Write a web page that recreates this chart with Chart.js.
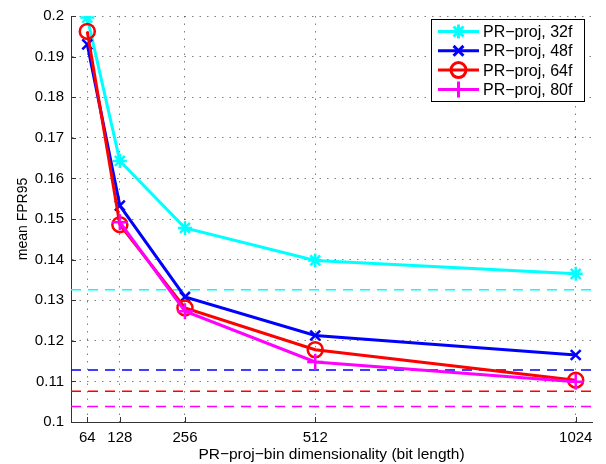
<!DOCTYPE html>
<html>
<head>
<meta charset="utf-8">
<script src="https://cdn.jsdelivr.net/npm/chart.js@4.4.1/dist/chart.umd.min.js"></script>
<style>
  html, body { margin: 0; padding: 0; background: #fff; }
  #wrap { width: 606px; height: 464px; }
</style>
</head>
<body>
<div id="wrap"><canvas id="fprChart" width="606" height="464"></canvas></div>
<script>
// Datos
const bitLengths = [64, 128, 256, 512, 1024];
const fpr32f = [0.1996, 0.1643, 0.1478, 0.1398, 0.1365];
const fpr48f = [0.1930, 0.1533, 0.1308, 0.1213, 0.1165];
const fpr64f = [0.1962, 0.1486, 0.1281, 0.1178, 0.1103];
const fpr80f = [null, 0.1492, 0.1273, 0.1148, 0.1099];
// Líneas de referencia (discontinuas)
const baseline32f = 0.1326;
const baseline48f = 0.1128;
const baseline64f = 0.1076;
const baseline80f = 0.1038;
const xMin = 32, xMax = 1056;
const yTicks = [0.1, 0.11, 0.12, 0.13, 0.14, 0.15, 0.16, 0.17, 0.18, 0.19, 0.2];

const FONT = "'Liberation Sans', Arial, Helvetica, sans-serif";

function toPoints(values) {
  return bitLengths.map((x, i) => ({ x: x, y: values[i] }));
}

function flatLine(y) {
  return [{ x: xMin, y: y }, { x: xMax, y: y }];
}

function series(label, values, color, style, radius, order) {
  return {
    label: label,
    data: toPoints(values),
    borderColor: color,
    borderWidth: 3,
    pointStyle: style,
    pointRadius: radius,
    pointBorderWidth: 2.5,
    pointBorderColor: color,
    pointBackgroundColor: "rgba(0,0,0,0)",
    spanGaps: false,
    order: order,
  };
}

function baseline(y, color) {
  return {
    data: flatLine(y),
    borderColor: color,
    borderWidth: 1.5,
    borderDash: [10, 7],
    pointRadius: 0,
    order: 10,
  };
}

// Ticks hacia adentro, estilo MATLAB
const inwardTicks = {
  id: "inwardTicks",
  afterDraw(chart) {
    const { ctx, chartArea, scales } = chart;
    ctx.save();
    ctx.strokeStyle = "#333";
    ctx.lineWidth = 1;
    ctx.beginPath();
    bitLengths.forEach((v) => {
      const px = Math.round(scales.x.getPixelForValue(v)) + 0.5;
      ctx.moveTo(px, chartArea.bottom);
      ctx.lineTo(px, chartArea.bottom - 5);
    });
    yTicks.forEach((v) => {
      const py = Math.round(scales.y.getPixelForValue(v)) + 0.5;
      ctx.moveTo(chartArea.left, py);
      ctx.lineTo(chartArea.left + 5, py);
    });
    ctx.stroke();
    ctx.restore();
  },
};

// Leyenda con línea y marcador
const matlabLegend = {
  id: "matlabLegend",
  afterDraw(chart) {
    const { ctx } = chart;
    const items = chart.data.datasets.filter((d) => d.label);
    const box = { x: 431, y: 19, w: 153, h: 82 };
    ctx.save();
    ctx.fillStyle = "#fff";
    ctx.fillRect(box.x, box.y, box.w, box.h);
    ctx.strokeStyle = "#000";
    ctx.lineWidth = 1;
    ctx.strokeRect(box.x + 0.5, box.y + 0.5, box.w, box.h);
    items.forEach((d, i) => {
      const cy = box.y + 12.5 + i * 19.3;
      ctx.strokeStyle = d.borderColor;
      ctx.lineWidth = 3;
      ctx.beginPath();
      ctx.moveTo(438, cy);
      ctx.lineTo(479, cy);
      ctx.stroke();
      ctx.fillStyle = "rgba(0,0,0,0)";
      Chart.helpers.drawPoint(ctx, {
        pointStyle: d.pointStyle,
        radius: d.pointRadius,
        rotation: 0,
        borderWidth: d.pointBorderWidth,
      }, 458.5, cy);
      ctx.fillStyle = "#000";
      ctx.font = "16px " + FONT;
      ctx.textBaseline = "middle";
      ctx.textAlign = "left";
      ctx.fillText(d.label, 483, cy + 1);
    });
    ctx.restore();
  },
};

const ctx = document.getElementById("fprChart").getContext("2d");
const fprChart = new Chart(ctx, {
  type: "line",
  data: {
    datasets: [
      series("PR\u2212proj, 32f", fpr32f, "#00ffff", "star", 7, 3),
      series("PR\u2212proj, 48f", fpr48f, "#0000ff", "crossRot", 7, 2),
      series("PR\u2212proj, 64f", fpr64f, "#ff0000", "circle", 7.5, 1),
      series("PR\u2212proj, 80f", fpr80f, "#ff00ff", "cross", 8, 0),
      baseline(baseline32f, "#00ffff"),
      baseline(baseline48f, "#0000ff"),
      baseline(baseline64f, "#ff0000"),
      baseline(baseline80f, "#ff00ff"),
    ],
  },
  options: {
    responsive: false,
    animation: false,
    layout: { padding: { top: 12, right: 14, left: 0, bottom: 0 } },
    plugins: {
      legend: { display: false },
      tooltip: { enabled: false },
    },
    scales: {
      x: {
        type: "linear",
        min: xMin,
        max: xMax,
        afterBuildTicks: (scale) => {
          scale.ticks = bitLengths.map((v) => ({ value: v }));
        },
        afterFit: (scale) => { scale.height = 42; },
        grid: { color: "rgba(0,0,0,0.5)", lineWidth: 1, drawTicks: false },
        border: { display: true, color: "#333", width: 1, dash: [1.5, 6] },
        ticks: {
          color: "#000",
          padding: 7,
          maxRotation: 0,
          autoSkip: false,
          font: { family: FONT, size: 15 },
          callback: (v) => v,
        },
        title: {
          display: true,
          text: "PR\u2212proj\u2212bin dimensionality (bit length)",
          color: "#000",
          padding: { top: 1, bottom: 0 },
          font: { family: FONT, size: 15.5 },
        },
      },
      y: {
        min: 0.1,
        max: 0.2,
        afterBuildTicks: (scale) => {
          scale.ticks = yTicks.map((v) => ({ value: v }));
        },
        afterFit: (scale) => { scale.width = 71; },
        grid: { color: "rgba(0,0,0,0.5)", lineWidth: 1, drawTicks: false },
        border: { display: true, color: "#333", width: 1, dash: [1.5, 6] },
        ticks: {
          color: "#000",
          padding: 7,
          font: { family: FONT, size: 15 },
          callback: (v) => String(+v.toFixed(2)),
        },
        title: {
          display: true,
          text: "mean FPR95",
          color: "#000",
          padding: { top: 15, bottom: 0 },
          font: { family: FONT, size: 14 },
        },
      },
    },
  },
  plugins: [inwardTicks, matlabLegend],
});
</script>
</body>
</html>
